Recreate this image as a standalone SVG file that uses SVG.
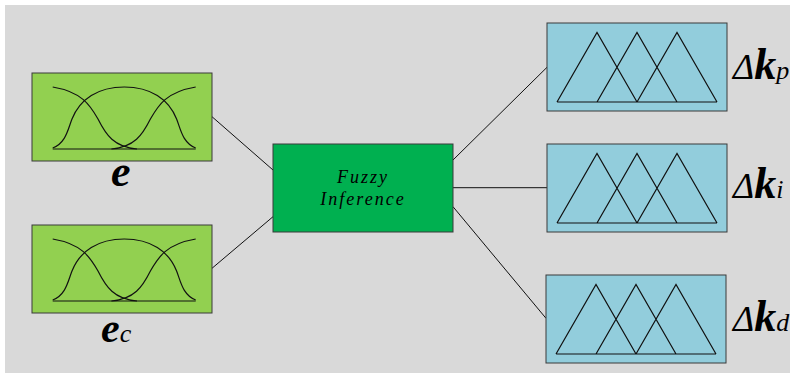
<svg xmlns="http://www.w3.org/2000/svg" width="790" height="378" viewBox="0 0 790 378">
<style>
.box{stroke:#3a3a3a;stroke-width:1}
.in{fill:#92D050}
.out{fill:#92CDDC}
.fz{fill:#00B050}
.mf{fill:none;stroke:#111;stroke-width:1.2}
.conn{stroke:#111;stroke-width:1;fill:none}
.t1{font-family:"Liberation Serif","Times New Roman",serif;font-style:italic;fill:#000}
.dk{font-size:36px}
.kk{font-size:44px;font-weight:bold}
.sb{font-size:26px;font-weight:normal}
</style>
<defs>
<g id="bellset">
<path class="mf" d="M20.7,14 C50,19 58,32 66,46 C74,62 82,74 105,76"/>
<path class="mf" d="M20.7,75 C34,70 36,56 40,46 C48,26 66,14 92.3,14 C118.6,14 136.6,26 144.6,46 C148.6,56 150.6,70 163.7,75"/>
<path class="mf" d="M163.7,14 C134.4,19 126.4,32 118.4,46 C110.4,62 102.4,74 79.4,76"/>
<path class="mf" d="M20.7,76 H163.7"/>
</g>
<g id="triset">
<path class="mf" d="M10,79 L50,9.5 L90,79 M50,79 L90,9.5 L130,79 M90,79 L130,9.5 L170,79 M10,79 H170"/>
</g>
</defs>
<rect x="5" y="5" width="785" height="368" fill="#D9D9D9"/>
<g id="connectors">
<line class="conn" x1="212" y1="116.7" x2="273" y2="170"/>
<line class="conn" x1="212" y1="268.3" x2="273" y2="216.7"/>
<line class="conn" x1="453" y1="160" x2="547" y2="67.3"/>
<line class="conn" x1="453" y1="187.7" x2="547" y2="187.7"/>
<line class="conn" x1="453" y1="206.7" x2="546" y2="318.3"/>
</g>
<g id="input-e">
<rect class="box in" x="32" y="73" width="180" height="88"/>
<use href="#bellset" transform="translate(32,73)"/>
<text class="t1" x="111" y="186" font-size="44" font-weight="bold">e</text>
</g>
<g id="input-ec">
<rect class="box in" x="32" y="225" width="180" height="88"/>
<use href="#bellset" transform="translate(32,225)"/>
<text class="t1" x="101" y="342" font-size="42" font-weight="bold">e<tspan font-size="26" font-weight="normal">c</tspan></text>
</g>
<g id="fuzzy-inference">
<rect class="box fz" x="273" y="144" width="180" height="88"/>
<text class="t1" x="363" y="183" font-size="18" text-anchor="middle" letter-spacing="2">Fuzzy</text>
<text class="t1" x="363" y="205" font-size="18" text-anchor="middle" letter-spacing="2">Inference</text>
</g>
<g id="output-kp">
<rect class="box out" x="547" y="23" width="180" height="88"/>
<use href="#triset" transform="translate(547,23)"/>
<text class="t1 dk" x="733" y="79">Δ<tspan class="kk">k</tspan><tspan class="sb">p</tspan></text>
</g>
<g id="output-ki">
<rect class="box out" x="547" y="144" width="180" height="88"/>
<use href="#triset" transform="translate(547,144)"/>
<text class="t1 dk" x="733" y="198">Δ<tspan class="kk">k</tspan><tspan class="sb">i</tspan></text>
</g>
<g id="output-kd">
<rect class="box out" x="546" y="275" width="180" height="88"/>
<use href="#triset" transform="translate(546,275)"/>
<text class="t1 dk" x="733" y="331">Δ<tspan class="kk">k</tspan><tspan class="sb">d</tspan></text>
</g>
</svg>
